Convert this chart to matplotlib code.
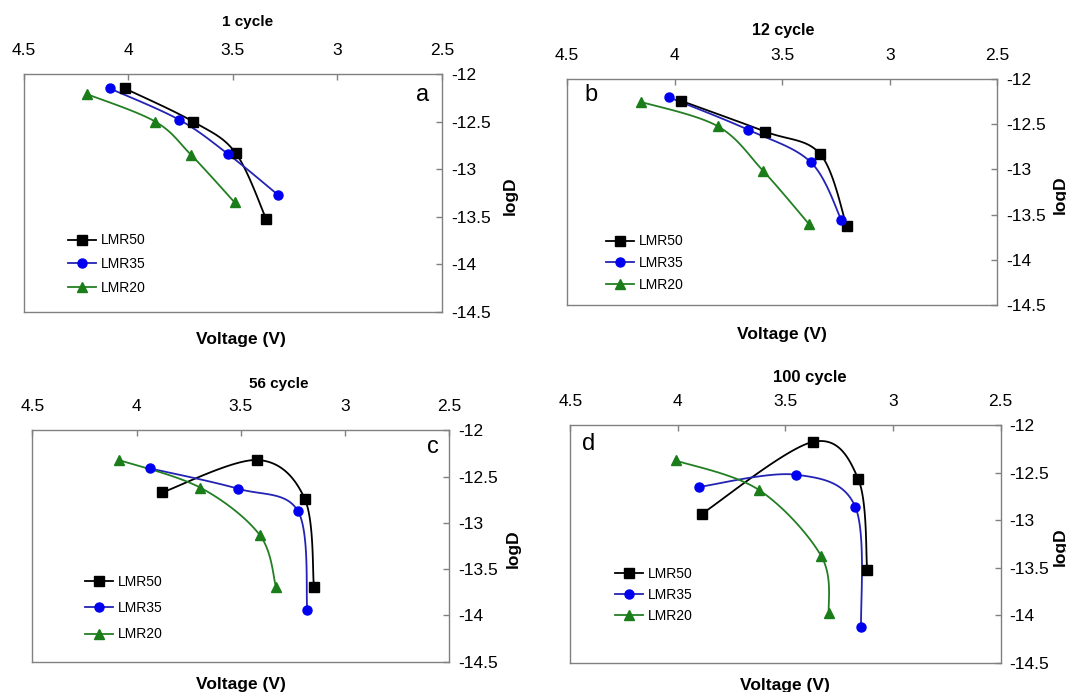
import numpy as np
import matplotlib
matplotlib.use('Agg')
import matplotlib.pyplot as plt
from matplotlib.lines import Line2D

plt.rcParams['font.family'] = ['Liberation Sans', 'DejaVu Sans']

W, H = 1066, 692

titles = ['1 cycle', '12 cycle', '56 cycle', '100 cycle']
letters = ['a', 'b', 'c', 'd']
series_names = ['LMR50', 'LMR35', 'LMR20']

x_ticks = [4.5, 4.0, 3.5, 3.0, 2.5]
x_ticklabels = ['4.5', '4', '3.5', '3', '2.5']
y_ticks = [-12.0, -12.5, -13.0, -13.5, -14.0, -14.5]
y_ticklabels = ['-12', '-12.5', '-13', '-13.5', '-14', '-14.5']

# panel a (1 cycle)
a_v50 = [4.017, 3.690, 3.487, 3.340]
a_d50 = [-12.15, -12.50, -12.83, -13.53]
a_v35 = [4.089, 3.757, 3.524, 3.285]
a_d35 = [-12.15, -12.48, -12.84, -13.27]
a_v20 = [4.198, 3.871, 3.700, 3.492]
a_d20 = [-12.21, -12.50, -12.85, -13.35]

# panel b (12 cycle)
b_v50 = [3.968, 3.579, 3.323, 3.200]
b_d50 = [-12.24, -12.58, -12.83, -13.63]
b_v35 = [4.026, 3.658, 3.367, 3.225]
b_d35 = [-12.20, -12.56, -12.92, -13.56]
b_v20 = [4.157, 3.800, 3.587, 3.374]
b_d20 = [-12.25, -12.52, -13.02, -13.61]

# panel c (56 cycle)
c_v50 = [3.876, 3.422, 3.194, 3.150]
c_d50 = [-12.67, -12.32, -12.74, -13.69]
c_v35 = [3.938, 3.515, 3.226, 3.182]
c_d35 = [-12.41, -12.63, -12.875, -13.94]
c_v20 = [4.085, 3.694, 3.410, 3.332]
c_d20 = [-12.32, -12.62, -13.13, -13.69]

# panel d (100 cycle)
d_v50 = [3.887, 3.373, 3.161, 3.120]
d_d50 = [-12.93, -12.175, -12.57, -13.52]
d_v35 = [3.904, 3.453, 3.175, 3.148]
d_d35 = [-12.65, -12.52, -12.86, -14.13]
d_v20 = [4.011, 3.624, 3.333, 3.298]
d_d20 = [-12.37, -12.68, -13.38, -13.98]

panels = [
    [(a_v50, a_d50), (a_v35, a_d35), (a_v20, a_d20)],
    [(b_v50, b_d50), (b_v35, b_d35), (b_v20, b_d20)],
    [(c_v50, c_d50), (c_v35, c_d35), (c_v20, c_d20)],
    [(d_v50, d_d50), (d_v35, d_d35), (d_v20, d_d20)],
]

line_colors = ['#000000', '#2323b4', '#237f23']
marker_colors = ['#000000', '#0000f0', '#1a7d1a']
markers = ['s', 'o', '^']
msizes = [6.8, 6.5, 7.2]

# layout in pixels: left, top, right, bottom
boxes = [(23.8, 74.2, 442.0, 311.5),
         (567.0, 79.3, 997.4, 304.7),
         (32.3, 430.4, 449.5, 661.6),
         (570.4, 425.3, 1000.5, 662.6)]
title_x = [0.534, 0.502, 0.59, 0.557]
title_up = [52, 49, 46, 47.6]
title_fs = [11, 11.5, 11, 12]
xlabel_x = [0.52, 0.50, 0.50, 0.498]
xlabel_down = [28, 30, 22.5, 22.5]
ylabel_right = [68, 63, 64, 60]
letter_pos = [(423, 94.6), (591, 94.6), (432.5, 446.7), (589, 444)]
leg_pos = [(68, 233.5), (606, 234.5), (85, 574.5), (615, 567)]
leg_spacing = [0.7, 0.55, 0.9, 0.5]

def smooth(ax, xs, ys, n=30):
    """Excel-like smoothed line (Catmull-Rom Bezier) computed in display space."""
    tr = ax.transData
    P = tr.transform(np.column_stack([xs, ys]))
    m = len(P)
    out = [P[0]]
    for i in range(m - 1):
        p0 = P[i - 1] if i > 0 else P[i]
        p1 = P[i]
        p2 = P[i + 1]
        p3 = P[i + 2] if i + 2 < m else P[i + 1]
        c1 = p1 + (p2 - p0) / 6.0
        c2 = p2 - (p3 - p1) / 6.0
        t = np.linspace(0, 1, n)[1:, None]
        seg = ((1 - t) ** 3) * p1 + 3 * ((1 - t) ** 2) * t * c1 + 3 * (1 - t) * t ** 2 * c2 + t ** 3 * p2
        out.extend(seg)
    out = np.array(out)
    D = tr.inverted().transform(out)
    return D[:, 0], D[:, 1]

fig = plt.figure(figsize=(W / 100, H / 100), dpi=100)

for k in range(4):
    l, t, r, b = boxes[k]
    w, h = r - l, b - t
    ax = fig.add_axes([l / W, 1 - b / H, w / W, h / H])
    ax.set_xlim(4.5, 2.5)
    ax.set_ylim(-14.5, -12.0)
    for sp in ax.spines.values():
        sp.set_color('#808080')
        sp.set_linewidth(1.0)
    ax.xaxis.tick_top()
    ax.yaxis.tick_right()
    ax.set_xticks(x_ticks)
    ax.set_xticklabels(x_ticklabels)
    ax.set_yticks(y_ticks)
    ax.set_yticklabels(y_ticklabels)
    ax.tick_params(axis='x', direction='in', length=4.5, width=1.0, color='#808080',
                   pad=12, labelsize=12.5, top=True, bottom=False)
    ax.tick_params(axis='y', direction='in', length=4.5, width=1.0, color='#808080',
                   pad=6.5, labelsize=12.5, right=True, left=False)

    handles = []
    for j, (xs, ys) in enumerate(panels[k]):
        sx, sy = smooth(ax, xs, ys)
        ax.plot(sx, sy, color=line_colors[j], lw=1.3, zorder=2)
        ax.plot(xs, ys, linestyle='none', marker=markers[j], ms=msizes[j],
                color=marker_colors[j], mec=marker_colors[j], zorder=3)
        handles.append(Line2D([], [], color=line_colors[j], lw=1.3, marker=markers[j],
                              ms=msizes[j], mfc=marker_colors[j], mec=marker_colors[j]))

    ax.set_title(titles[k], x=title_x[k], y=1 + title_up[k] / h, pad=0,
                 fontsize=title_fs[k], fontweight='bold', va='center')

    ax.xaxis.set_label_position('bottom')
    ax.set_xlabel('Voltage (V)', fontsize=12.5, fontweight='bold', va='center', ha='center')
    ax.xaxis.set_label_coords(xlabel_x[k], -xlabel_down[k] / h)

    ax.yaxis.set_label_position('right')
    ax.set_ylabel('logD', fontsize=12.5, fontweight='bold', rotation=90, va='center', ha='center')
    ax.yaxis.set_label_coords(1 + ylabel_right[k] / w, 0.49)

    lx, ly = letter_pos[k]
    fig.text(lx / W, 1 - ly / H, letters[k], fontsize=17, ha='center', va='center')

    gx, gy = leg_pos[k]
    ax.legend(handles, series_names, loc='upper left',
              bbox_to_anchor=(gx / W, 1 - gy / H), bbox_transform=fig.transFigure,
              frameon=False, borderpad=0, borderaxespad=0, handlelength=2.0,
              handletextpad=0.35, labelspacing=leg_spacing[k], fontsize=10)

fig.savefig('out.png', dpi=100)
